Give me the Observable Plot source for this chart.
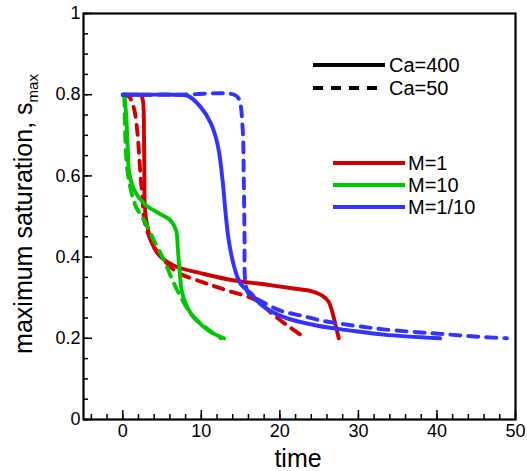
<!DOCTYPE html>
<html>
<head>
<meta charset="utf-8">
<script src="https://cdn.jsdelivr.net/npm/d3@7"></script>
<script src="https://cdn.jsdelivr.net/npm/@observablehq/plot@0.6"></script>
<style>
  html, body { margin: 0; padding: 0; background: #fff; }
  #chart { position: relative; width: 527px; height: 471px; }
  svg { font-family: "Liberation Sans", Arial, sans-serif; }
</style>
</head>
<body>
<div id="chart"></div>
<script>
// ---- data (time, maximum saturation) ----
const m1Ca400 = [[0,0.8],[1,0.8],[2,0.8],[2.4,0.796],[2.6,0.78],[2.7,0.7],[2.75,0.6],[2.8,0.53],[3.0,0.49],[3.6,0.44],[4.4,0.41],[5.5,0.39],[7,0.375],[10,0.36],[14,0.343],[18,0.333],[22,0.322],[24,0.316],[25.4,0.305],[26.2,0.29],[26.6,0.27],[27,0.24],[27.5,0.2]];
const m1Ca50 = [[0,0.8],[0.8,0.795],[1.2,0.78],[1.5,0.76],[1.9,0.7],[2.1,0.645],[2.3,0.59],[2.5,0.55],[2.75,0.49],[3.6,0.44],[4.9,0.4],[7,0.362],[9.9,0.34],[12,0.326],[14.1,0.313],[16.3,0.3],[17.5,0.287],[18.8,0.264],[21,0.231],[23.3,0.2]];
const m10Ca400 = [[0.2,0.8],[0.42,0.753],[0.63,0.67],[0.84,0.605],[1.5,0.564],[2.75,0.531],[4.4,0.51],[6.1,0.49],[6.8,0.465],[7.0,0.424],[7.2,0.375],[7.6,0.309],[8.7,0.26],[9.9,0.235],[11.2,0.215],[12.9,0.2]];
const m10Ca50 = [[0.2,0.797],[0.3,0.71],[0.55,0.62],[1.05,0.564],[1.7,0.523],[2.75,0.49],[4.0,0.44],[5.3,0.39],[6.35,0.342],[7.4,0.301],[8.7,0.26],[10.8,0.223],[12.5,0.2]];
const m01Ca400 = [[0,0.8],[3,0.8],[6.5,0.8],[8.3,0.797],[9.9,0.77],[11.2,0.73],[12.1,0.675],[12.7,0.59],[13.1,0.506],[13.5,0.44],[14.2,0.375],[15.0,0.334],[16.3,0.311],[17.6,0.283],[20.5,0.252],[24.8,0.231],[29,0.219],[33.2,0.209],[40.4,0.2]];
const m01Ca50 = [[0,0.8],[7,0.8],[14.2,0.8],[14.8,0.789],[15.25,0.72],[15.4,0.6],[15.5,0.45],[15.6,0.34],[16.0,0.31],[17.1,0.297],[20.1,0.268],[22.7,0.256],[25.2,0.244],[27.7,0.236],[30.3,0.229],[33.2,0.222],[37.5,0.215],[40.4,0.211],[43,0.207],[46,0.203],[48.9,0.2]];

const seriesNames = ["M=1", "M=10", "M=1/10"];
const seriesColors = ["#d10000", "#00c800", "#3333ff"];
const caNames = ["Ca=400", "Ca=50"];
const xTicks = [0, 10, 20, 30, 40, 50];
const yTicks = [0, 0.2, 0.4, 0.6, 0.8, 1];

const curves = [
  {data: m1Ca400, color: seriesColors[0], dash: null},
  {data: m1Ca50, color: seriesColors[0], dash: "10,8"},
  {data: m10Ca400, color: seriesColors[1], dash: null},
  {data: m10Ca50, color: seriesColors[1], dash: "10,8"},
  {data: m01Ca400, color: seriesColors[2], dash: null},
  {data: m01Ca50, color: seriesColors[2], dash: "10,8"}
];

const lineMarks = curves.map(c => Plot.line(c.data, {
  x: d => d[0], y: d => d[1], stroke: c.color, strokeWidth: 3.9,
  strokeDasharray: c.dash, curve: "catmull-rom"
}));

const W = 527, H = 471;
const chart = Plot.plot({
  width: W, height: H,
  marginLeft: 83, marginRight: 12, marginTop: 13, marginBottom: 52,
  style: {fontFamily: "Liberation Sans, Arial, sans-serif", fontSize: "18px", color: "#000", background: "#fff"},
  x: {domain: [-5, 50]},
  y: {domain: [0, 1]},
  marks: [
    ...lineMarks,
    Plot.axisX({ticks: d3.range(-4, 51, 2), tickSize: -5, tickFormat: () => "", label: null, strokeWidth: 1.5}),
    Plot.axisX({ticks: xTicks, tickSize: -9, tickPadding: 14, tickFormat: d => String(d), label: null, strokeWidth: 1.5, fontSize: 18}),
    Plot.axisY({ticks: d3.range(0, 1.001, 0.05), tickSize: -5, tickFormat: () => "", label: null, strokeWidth: 1.5}),
    Plot.axisY({ticks: yTicks, tickSize: -9, tickPadding: 12, tickFormat: d => (d === 0 || d === 1) ? String(d) : d.toFixed(1), label: null, strokeWidth: 1.5, fontSize: 18}),
    Plot.frame({stroke: "#000", strokeWidth: 2.2})
  ]
});
document.getElementById("chart").appendChild(chart);

// ---- axis titles and legend (layout only) ----
const svg = d3.select(chart);
const ff = "Liberation Sans, Arial, sans-serif";
svg.append("text").attr("x", 298).attr("y", 467).attr("text-anchor", "middle")
  .attr("font-size", 25).attr("font-family", ff).attr("fill", "#000").text("time");
const yt = svg.append("text").attr("transform", "translate(32,214) rotate(-90)")
  .attr("text-anchor", "middle").attr("font-size", 25).attr("font-family", ff).attr("fill", "#000");
yt.append("tspan").text("maximum saturation, s");
yt.append("tspan").attr("font-size", 15).attr("dy", 6).text("max");

const lg = svg.append("g").attr("text-anchor", "start");
caNames.forEach((n, i) => {
  const y = 65 + i * 23;
  lg.append("line").attr("x1", 313).attr("x2", 385).attr("y1", y).attr("y2", y)
    .attr("stroke", "#000").attr("stroke-width", 3.9).attr("stroke-dasharray", i ? "10,8" : null);
  lg.append("text").attr("x", 389).attr("y", y + 7).attr("font-size", 20).attr("font-family", ff)
    .attr("text-anchor", "start").attr("fill", "#000").text(n);
});
seriesNames.forEach((n, i) => {
  const y = 163 + i * 22;
  lg.append("line").attr("x1", 333).attr("x2", 405).attr("y1", y).attr("y2", y)
    .attr("stroke", seriesColors[i]).attr("stroke-width", 3.9);
  lg.append("text").attr("x", 408).attr("y", y + 7).attr("font-size", 20).attr("font-family", ff)
    .attr("text-anchor", "start").attr("fill", "#000").text(n);
});
</script>
</body>
</html>
